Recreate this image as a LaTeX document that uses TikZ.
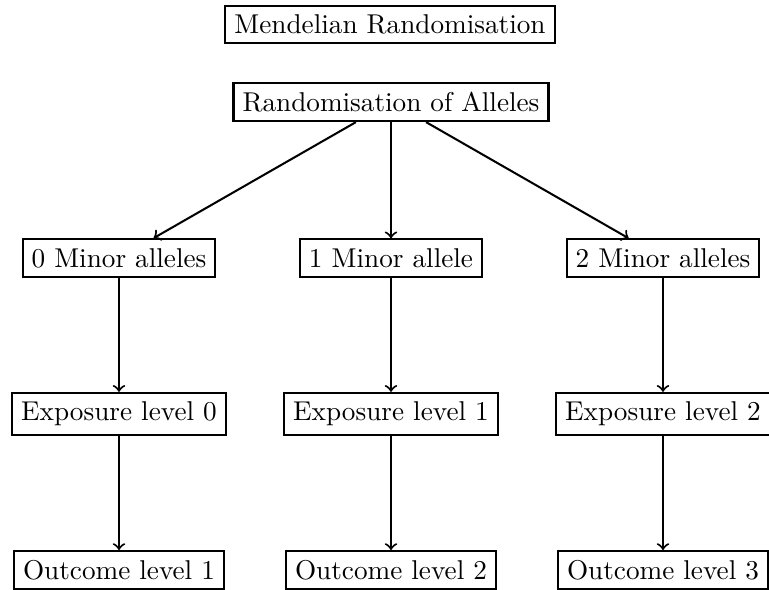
\documentclass[tikz,border=0pt]{standalone}
\begin{document}
\begin{tikzpicture}[x=0.3676pt, y=-0.3676pt,
  box/.style={draw, rectangle, line width=0.75pt, inner sep=0.3333em},
  link/.style={->, line width=0.75pt}]
  % fixed frame (pixel-like units)
  \useasboundingbox (0,0) rectangle (769,590);

  \node[box] (title) at (390,24.5) {Mendelian Randomisation};
  \node[box] (ra) at (391,102) {Randomisation of Alleles};

  \node[box] (m0) at (119,258) {0 Minor alleles};
  \node[box] (m1) at (391,258) {1 Minor allele};
  \node[box] (m2) at (663,258) {2 Minor alleles};

  \node[box] (e0) at (119,414) {Exposure level 0};
  \node[box] (e1) at (391,414) {Exposure level 1};
  \node[box] (e2) at (663,414) {Exposure level 2};

  \node[box] (o1) at (119,570) {Outcome level 1};
  \node[box] (o2) at (391,570) {Outcome level 2};
  \node[box] (o3) at (663,570) {Outcome level 3};

  \draw[link] (ra) -- (m0);
  \draw[link] (ra) -- (m1);
  \draw[link] (ra) -- (m2);

  \draw[link] (m0) -- (e0);
  \draw[link] (m1) -- (e1);
  \draw[link] (m2) -- (e2);

  \draw[link] (e0) -- (o1);
  \draw[link] (e1) -- (o2);
  \draw[link] (e2) -- (o3);
\end{tikzpicture}
\end{document}
